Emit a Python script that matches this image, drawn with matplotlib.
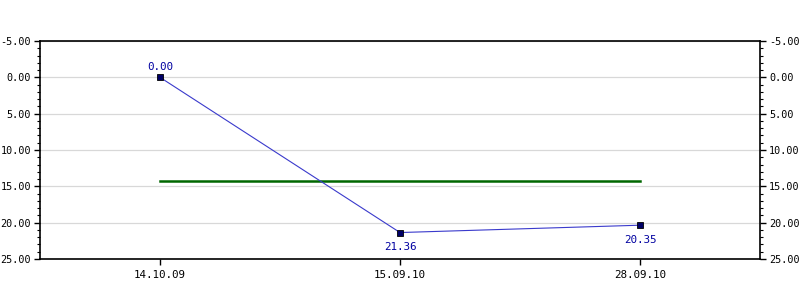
import matplotlib
matplotlib.use("Agg")
import matplotlib.pyplot as plt
from matplotlib.ticker import MultipleLocator, FormatStrFormatter

# Chart data
dates = ["14.10.09", "15.09.10", "28.09.10"]
values = [0.00, 21.36, 20.35]
avg_level = 14.2

font = "DejaVu Sans Mono"

fig = plt.figure(figsize=(8, 3), dpi=100)
ax = fig.add_axes([0.05, 0.1367, 0.90, 0.7266])

x = list(range(len(dates)))

# Average line
ax.plot([x[0], x[-1]], [avg_level, avg_level], color="#006600", lw=1.8, zorder=2)

# Main series
ax.plot(x, values, color="#3a3acc", lw=0.8, zorder=3)
ax.plot(x, values, ls="none", marker="s", ms=4.5, mfc="#000066", mec="black", mew=0.6, zorder=4)

for xi, v in zip(x, values):
    if xi == 0:
        ax.annotate("%.2f" % v, (xi, v), xytext=(0, 4), textcoords="offset points",
                    ha="center", va="bottom", color="#0000a0", fontsize=7.8, family=font)
    else:
        ax.annotate("%.2f" % v, (xi, v), xytext=(0, -7), textcoords="offset points",
                    ha="center", va="top", color="#0000a0", fontsize=7.8, family=font)

ax.set_xlim(-0.5, len(dates) - 0.5)
ax.set_ylim(25, -5)
ax.set_xticks(x)
ax.set_xticklabels(dates, family=font, fontsize=7.8)

ax.yaxis.set_major_locator(MultipleLocator(5))
ax.yaxis.set_minor_locator(MultipleLocator(1))
ax.yaxis.set_major_formatter(FormatStrFormatter("%.2f"))
ax.tick_params(axis="y", which="major", length=4, width=1, labelsize=7.3, pad=2.5,
               left=True, right=True, labelleft=True, labelright=True)
ax.tick_params(axis="y", which="minor", length=2.5, width=0.8, left=True, right=True)
ax.tick_params(axis="x", length=4, width=1, pad=4)
for lab in ax.get_yticklabels():
    lab.set_family(font)

ax.grid(axis="y", which="major", color="#d8d8d8", lw=0.9, zorder=0)
for s in ax.spines.values():
    s.set_linewidth(1.2)

fig.savefig("out.png", dpi=100)
